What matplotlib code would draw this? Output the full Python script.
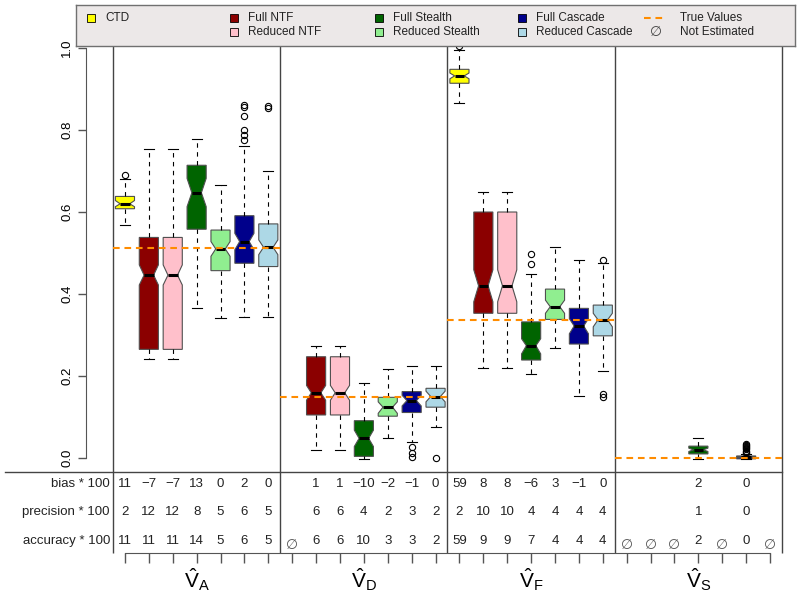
import matplotlib
matplotlib.use("Agg")
import matplotlib.pyplot as plt
from matplotlib.lines import Line2D

plt.rcParams['font.family'] = ['Liberation Sans', 'DejaVu Sans']
plt.rcParams['mathtext.fontset'] = 'custom'
plt.rcParams['mathtext.rm'] = 'Liberation Sans'
plt.rcParams['mathtext.it'] = 'Liberation Sans'

# --- data ----------------------------------------------------------------
groups = ['A', 'D', 'F', 'S']
methods = ['CTD', 'Full NTF', 'Reduced NTF', 'Full Stealth', 'Reduced Stealth',
           'Full Cascade', 'Reduced Cascade']
colors = ['#FFFF00', '#8B0000', '#FFC0CB', '#006400', '#90EE90', '#00008B', '#ADD8E6']
true_values = [0.513, 0.150, 0.337, 0.0]

# one entry per box, 7 per group (None = not estimated)
whislo = [0.568, 0.241, 0.241, 0.367, 0.341, 0.343, 0.343,
          None, 0.020, 0.020, -0.002, 0.050, 0.040, 0.076,
          0.865, 0.220, 0.220, 0.204, 0.269, 0.151, 0.213,
          None, None, None, -0.002, None, -0.003, None]
q1 = [0.608, 0.265, 0.265, 0.558, 0.457, 0.475, 0.467,
      None, 0.105, 0.105, 0.004, 0.102, 0.111, 0.124,
      0.914, 0.353, 0.353, 0.239, 0.338, 0.278, 0.298,
      None, None, None, 0.010, None, -0.002, None]
med = [0.620, 0.446, 0.446, 0.647, 0.510, 0.528, 0.514,
       None, 0.159, 0.159, 0.048, 0.124, 0.140, 0.150,
       0.932, 0.420, 0.420, 0.274, 0.369, 0.322, 0.337,
       None, None, None, 0.020, None, 0.002, None]
q3 = [0.638, 0.538, 0.538, 0.714, 0.556, 0.591, 0.571,
      None, 0.247, 0.247, 0.091, 0.148, 0.162, 0.170,
      0.948, 0.600, 0.600, 0.332, 0.412, 0.365, 0.373,
      None, None, None, 0.029, None, 0.005, None]
whishi = [0.680, 0.754, 0.754, 0.777, 0.667, 0.761, 0.701,
          None, 0.272, 0.272, 0.184, 0.216, 0.224, 0.224,
          0.995, 0.648, 0.648, 0.450, 0.515, 0.483, 0.475,
          None, None, None, 0.048, None, 0.010, None]
notch_lo = [0.613, 0.422, 0.422, 0.613, 0.492, 0.508, 0.496,
            None, 0.141, 0.141, 0.028, 0.109, 0.127, 0.137,
            0.925, 0.381, 0.381, 0.254, 0.353, 0.303, 0.320,
            None, None, None, 0.016, None, 0.001, None]
notch_hi = [0.628, 0.471, 0.471, 0.682, 0.528, 0.548, 0.532,
            None, 0.177, 0.177, 0.068, 0.137, 0.153, 0.163,
            0.939, 0.459, 0.459, 0.291, 0.385, 0.340, 0.353,
            None, None, None, 0.024, None, 0.003, None]
outliers = [[0.690], [], [], [], [], [0.776, 0.788, 0.800, 0.833, 0.855, 0.860], [0.853, 0.858],
            [], [], [], [], [], [0.026, 0.013, 0.002], [0.001],
            [1.005], [], [], [0.472, 0.498], [], [], [0.483, 0.155, 0.150],
            [], [], [], [], [], [0.012, 0.015, 0.018, 0.021, 0.024, 0.027, 0.030, 0.032, 0.034], []]

bias = [11, -7, -7, 13, 0, 2, 0,
        None, 1, 1, -10, -2, -1, 0,
        59, 8, 8, -6, 3, -1, 0,
        None, None, None, 2, None, 0, None]
precision = [2, 12, 12, 8, 5, 6, 5,
             None, 6, 6, 4, 2, 3, 2,
             2, 10, 10, 4, 4, 4, 4,
             None, None, None, 1, None, 0, None]
accuracy = [11, 11, 11, 14, 5, 6, 5,
            None, 6, 6, 10, 3, 3, 2,
            59, 9, 9, 7, 4, 4, 4,
            None, None, None, 2, None, 0, None]

# --- figure ----------------------------------------------------------------
W, H = 800, 605
fig = plt.figure(figsize=(8, 6.05), dpi=100)

def frac(x0, y0, x1, y1):
    # pixel box (top-left origin) -> figure fraction
    return [x0 / W, 1 - y1 / H, (x1 - x0) / W, (y1 - y0) / H]

line_col = '#444444'
n = len(med)
xlim = (-0.63, n + 0.5)

ax = fig.add_axes(frac(86, 46, 782, 472))
ax.patch.set_alpha(0)

seps = [0.5 + 7 * k for k in range(len(groups) + 1)]
ax.vlines(seps, 0, 1, transform=ax.get_xaxis_transform(), color=line_col, lw=1,
          clip_on=False)

stats, pos, cols = [], [], []
for i in range(n):
    if med[i] is None:
        continue
    stats.append(dict(med=med[i], q1=q1[i], q3=q3[i], whislo=whislo[i], whishi=whishi[i],
                      cilo=notch_lo[i], cihi=notch_hi[i], fliers=outliers[i]))
    pos.append(i + 1)
    cols.append(colors[i % 7])

bp = ax.bxp(stats, positions=pos, widths=0.8, capwidths=0.42, shownotches=True,
            patch_artist=True, manage_ticks=False,
            boxprops=dict(edgecolor='#505050', linewidth=0.8),
            medianprops=dict(color='black', linewidth=2.2, solid_capstyle='butt'),
            whiskerprops=dict(color='black', linewidth=0.8, linestyle=(0, (4, 4))),
            capprops=dict(color='black', linewidth=0.8),
            flierprops=dict(marker='o', markersize=4.5, markerfacecolor='none',
                            markeredgecolor='black', markeredgewidth=0.8))
for patch, c in zip(bp['boxes'], cols):
    patch.set_facecolor(c)

for g, tv in enumerate(true_values):
    ax.plot([seps[g], seps[g + 1]], [tv, tv], color='#FF8C00', lw=1.5,
            linestyle=(0, (3.2, 2.3)), zorder=5)

ax.set_xlim(*xlim)
ax.set_ylim(-0.0341, 1.0049)
for s in ['top', 'right', 'bottom']:
    ax.spines[s].set_visible(False)
ax.spines['left'].set_bounds(0, 1)
ax.spines['left'].set_color('#555555')
ax.set_xticks([])
ax.set_yticks([0, 0.2, 0.4, 0.6, 0.8, 1.0])
ax.set_yticklabels(['0.0', '0.2', '0.4', '0.6', '0.8', '1.0'], rotation=90, va='center')
ax.tick_params(axis='y', length=5.8, width=1, color='#555555', labelsize=9.5, pad=3.5)

# --- table below -----------------------------------------------------------
tab = fig.add_axes(frac(86, 472, 782, 553))
tab.set_xlim(*xlim)
tab.set_ylim(553, 472)
tab.patch.set_alpha(0)
for s in ['top', 'right', 'left']:
    tab.spines[s].set_visible(False)
tab.spines['bottom'].set_bounds(1, n)
tab.spines['bottom'].set_color('#555555')
tab.set_yticks([])
tab.set_xticks(range(1, n + 1))
tab.set_xticklabels([])
tab.tick_params(axis='x', length=7.2, width=1, color='#555555', direction='out')
tab.vlines(seps, 472, 553, color=line_col, lw=1, clip_on=False)

fig.add_artist(Line2D([5 / W, 782 / W], [1 - 472 / H] * 2, color=line_col, lw=1))

rows = [('bias * 100', bias, 484), ('precision * 100', precision, 512),
        ('accuracy * 100', accuracy, 541)]
for label, vals, y in rows:
    tab.text(0.37, y, label, ha='right', va='center', fontsize=9.5, color='#222222')
    for i, v in enumerate(vals):
        if v is not None:
            tab.text(i + 1, y, str(v).replace('-', '\u2212'), ha='center', va='center',
                     fontsize=9.5, color='#222222')
        elif label.startswith('accuracy'):
            tab.text(i + 1, y + 4, '\u2205', ha='center', va='center', fontsize=10,
                     color='#555555', family='DejaVu Sans')

for g, name in enumerate(groups):
    tab.text(7 * g + 4, 580, r'$\hat{\mathrm{V}}_{\mathrm{%s}}$' % name, ha='center',
             va='center', fontsize=15)

# --- legend ----------------------------------------------------------------
lax = fig.add_axes(frac(76, 5, 795, 46))
lax.set_xlim(76, 795)
lax.set_ylim(46, 5)
lax.set_xticks([])
lax.set_yticks([])
lax.set_facecolor('#ECE8E8')
for s in lax.spines.values():
    s.set_color('#707070')
    s.set_linewidth(1)

col_x = [91, 234, 379, 522]
row_y = [18, 32]
entries = [(0, 0, 0), (1, 0, 1), (1, 1, 2), (2, 0, 3), (2, 1, 4), (3, 0, 5), (3, 1, 6)]
for c, r, k in entries:
    lax.plot(col_x[c], row_y[r], 's', ms=6, mfc=colors[k], mec='black', mew=0.6)
    lax.text(col_x[c] + 14, row_y[r], methods[k], ha='left', va='center', fontsize=8.5,
             color='#222222')
lax.plot([644, 665], [row_y[0]] * 2, color='#FF8C00', lw=1.5, linestyle=(0, (3.2, 2.3)))
lax.text(680, row_y[0], 'True Values', ha='left', va='center', fontsize=8.5, color='#222222')
lax.text(656, row_y[1], '\u2205', ha='center', va='center', fontsize=10, color='#444444',
         family='DejaVu Sans')
lax.text(680, row_y[1], 'Not Estimated', ha='left', va='center', fontsize=8.5, color='#222222')

fig.savefig('out.png', dpi=100)
